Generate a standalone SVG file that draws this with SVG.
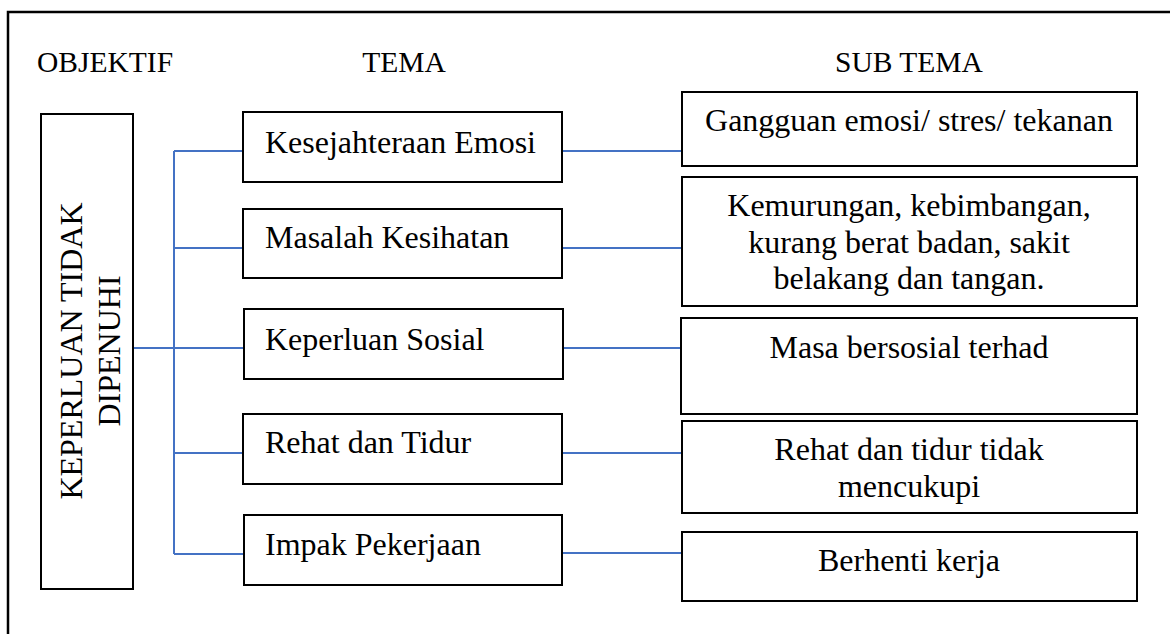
<svg xmlns="http://www.w3.org/2000/svg" width="1170" height="634" viewBox="0 0 1170 634">
<style>
text{font-family:"Liberation Serif","Times New Roman",serif;fill:#000}
.h{font-size:29.5px}
.t{font-size:32px}
.c{text-anchor:middle}
.box{fill:#fff;stroke:#000;stroke-width:2}
.ln{stroke:#4472C4;stroke-width:2;fill:none}
</style>
<rect x="0" y="0" width="1170" height="634" fill="#fff"/>
<rect id="frame" x="8" y="12" width="1200" height="700" fill="none" stroke="#000" stroke-width="2.5"/>
<g id="headers">
<text class="h" x="37" y="72">OBJEKTIF</text>
<text class="h c" x="404" y="72">TEMA</text>
<text class="h c" x="909" y="72">SUB TEMA</text>
</g>
<g id="connectors">
<path class="ln" d="M174 151 V554"/>
<path class="ln" d="M120 348 H244"/>
<path class="ln" d="M174 151 H244 M174 248 H244 M174 453 H244 M174 554 H244"/>
<path class="ln" d="M562 151 H682 M562 248 H682 M563 348 H682 M562 453 H682 M562 553 H682"/>
</g>
<g id="objektif">
<rect class="box" x="41" y="114" width="92" height="475"/>
<g transform="translate(0 351) rotate(-90)">
<text class="t c" x="0" y="82">KEPERLUAN TIDAK</text>
<text class="t c" x="0" y="120">DIPENUHI</text>
</g>
</g>
<g id="tema1"><rect class="box" x="243" y="112" width="319" height="70"/><text class="t" x="265" y="153">Kesejahteraan Emosi</text></g>
<g id="tema2"><rect class="box" x="243" y="209" width="319" height="69"/><text class="t" x="265" y="248">Masalah Kesihatan</text></g>
<g id="tema3"><rect class="box" x="244" y="309" width="319" height="70"/><text class="t" x="265" y="350">Keperluan Sosial</text></g>
<g id="tema4"><rect class="box" x="243" y="414" width="319" height="70"/><text class="t" x="265" y="453">Rehat dan Tidur</text></g>
<g id="tema5"><rect class="box" x="244" y="515" width="318" height="70"/><text class="t" x="265" y="555">Impak Pekerjaan</text></g>
<g id="sub1"><rect class="box" x="682" y="92" width="455" height="74"/><text class="t c" x="909" y="131">Gangguan emosi/ stres/ tekanan</text></g>
<g id="sub2"><rect class="box" x="682" y="177" width="455" height="129"/>
<text class="t c" x="909" y="216">Kemurungan, kebimbangan,</text>
<text class="t c" x="909" y="253">kurang berat badan, sakit</text>
<text class="t c" x="909" y="289">belakang dan tangan.</text></g>
<g id="sub3"><rect class="box" x="681" y="318" width="456" height="96"/><text class="t c" x="909" y="358">Masa bersosial terhad</text></g>
<g id="sub4"><rect class="box" x="682" y="421" width="455" height="92"/>
<text class="t c" x="909" y="460">Rehat dan tidur tidak</text>
<text class="t c" x="909" y="497">mencukupi</text></g>
<g id="sub5"><rect class="box" x="682" y="532" width="455" height="69"/><text class="t c" x="909" y="571">Berhenti kerja</text></g>
</svg>
